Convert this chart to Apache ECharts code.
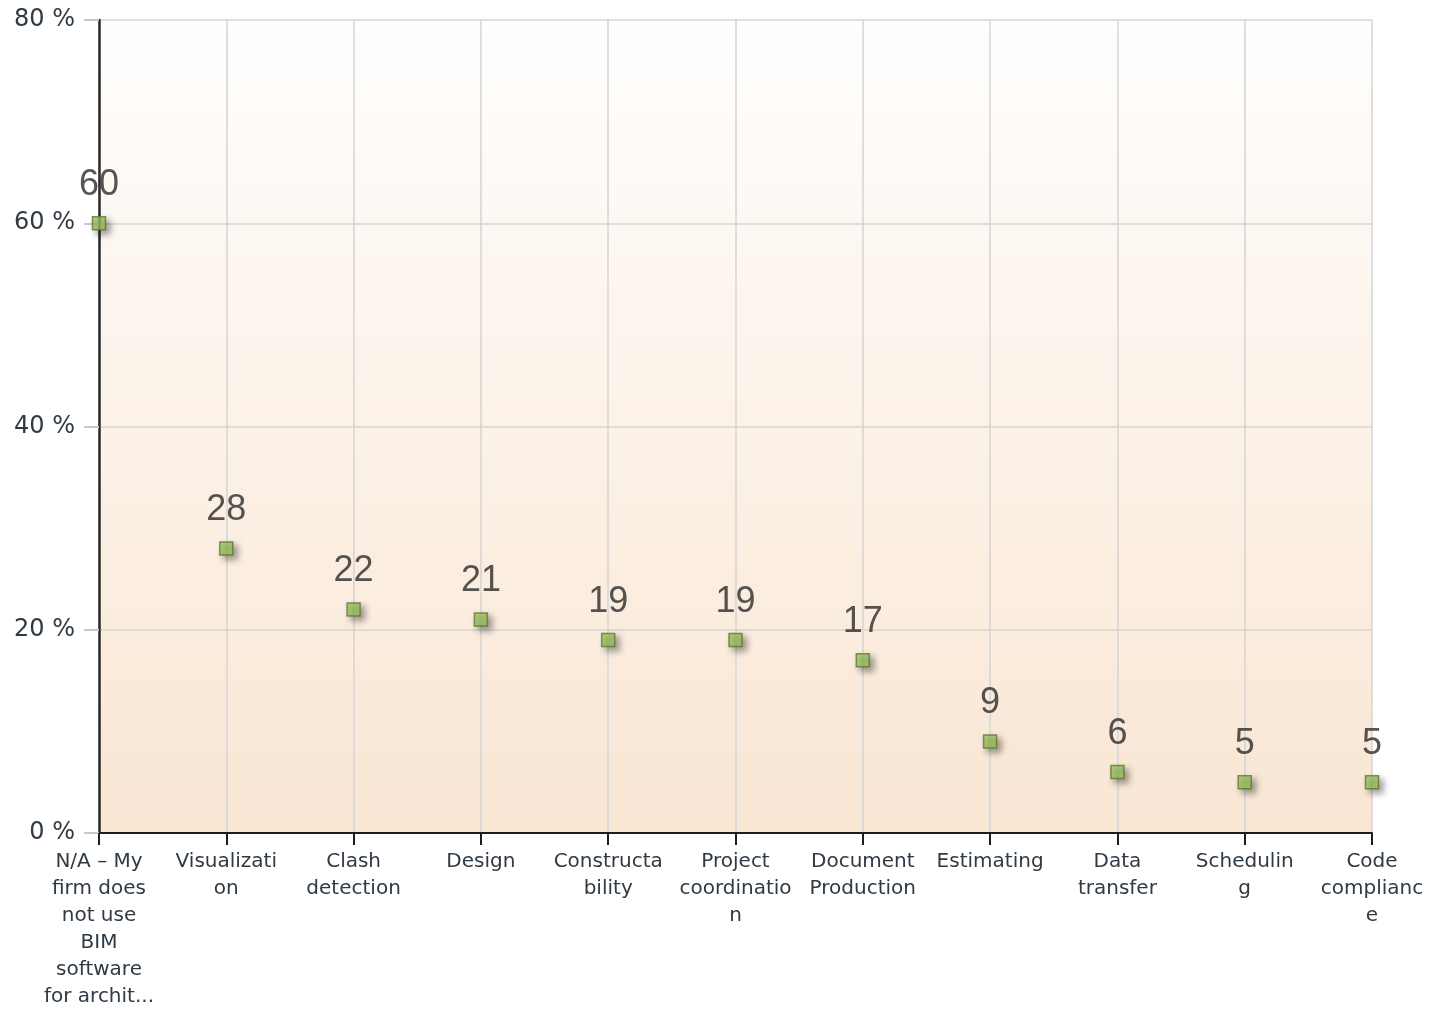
<!DOCTYPE html>
<html>
<head>
<meta charset="utf-8">
<title>BIM software uses</title>
<script src="https://cdn.jsdelivr.net/npm/echarts@6/dist/echarts.min.js"></script>
<style>
  html, body { margin: 0; padding: 0; background: #ffffff; }
  #chart { width: 1431px; height: 1010px; }
</style>
</head>
<body>
<div id="chart"></div>
<script>
// Category labels, wrapped the way they appear under the axis
const categories = [
  'N/A \u2013 My\nfirm does\nnot use\nBIM\nsoftware\nfor archit...',
  'Visualizati\non',
  'Clash\ndetection',
  'Design',
  'Constructa\nbility',
  'Project\ncoordinatio\nn',
  'Document\nProduction',
  'Estimating',
  'Data\ntransfer',
  'Schedulin\ng',
  'Code\ncomplianc\ne'
];

// Share of respondents (%)
const percentages = [60, 28, 22, 21, 19, 19, 17, 9, 6, 5, 5];

// Value axis ticks (%)
const yTicks = [0, 20, 40, 60, 80];

const chart = echarts.init(document.getElementById('chart'), null, { renderer: 'canvas' });

chart.setOption({
  animation: false,
  backgroundColor: '#ffffff',
  grid: {
    left: 99,
    right: 59,
    top: 20,
    bottom: 177,
    show: true,
    borderWidth: 0,
    backgroundColor: {
      type: 'linear', x: 0, y: 0, x2: 0, y2: 1,
      colorStops: [
        { offset: 0, color: '#fffefd' },
        { offset: 1, color: '#f9e6d3' }
      ]
    }
  },
  xAxis: {
    type: 'category',
    data: categories,
    boundaryGap: false,
    axisLine: { show: true, lineStyle: { color: '#1e1e1e', width: 2 } },
    axisTick: { show: true, length: 12, lineStyle: { color: '#1e1e1e', width: 2 }, interval: 0 },
    splitLine: { show: true, interval: 0, lineStyle: { color: '#d4d4d4', width: 1.5 } },
    axisLabel: {
      interval: 0,
      margin: 15,
      fontFamily: 'DejaVu Sans',
      fontSize: 20,
      lineHeight: 27,
      color: '#2f3a44',
      align: 'center'
    }
  },
  yAxis: {
    type: 'value',
    min: yTicks[0],
    max: yTicks[yTicks.length - 1],
    interval: yTicks[1] - yTicks[0],
    axisLine: { show: true, lineStyle: { color: '#2a2a2a', width: 2.5 } },
    axisTick: { show: true, length: 15, lineStyle: { color: '#c8c8c8', width: 2 } },
    splitLine: { show: true, lineStyle: { color: '#d4d4d4', width: 1.5 } },
    axisLabel: {
      margin: 24,
      fontFamily: 'DejaVu Sans',
      fontSize: 24,
      color: '#2f3a44',
      formatter: v => v + ' %'
    }
  },
  series: [{
    type: 'scatter',
    data: percentages,
    symbol: 'rect',
    symbolSize: 13,
    itemStyle: {
      color: '#a0c862',
      borderColor: '#5a7a30',
      borderWidth: 1.5,
      shadowBlur: 6,
      shadowOffsetX: 4,
      shadowOffsetY: 4,
      shadowColor: 'rgba(0,0,0,0.45)'
    },
    label: {
      show: true,
      position: 'top',
      distance: 13,
      fontFamily: 'Liberation Sans',
      fontSize: 36,
      color: '#2b2b2b'
    },
    z: 5
  }]
});
</script>
</body>
</html>
